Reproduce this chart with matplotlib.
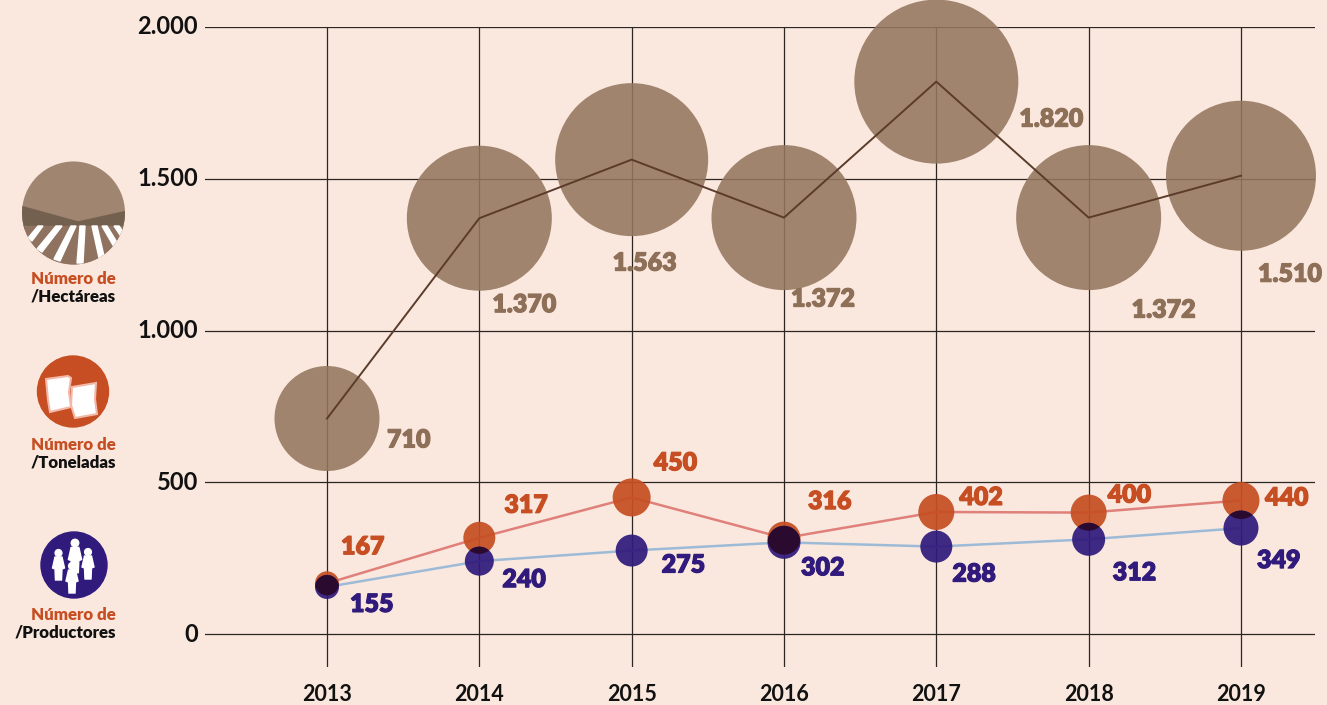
import matplotlib
matplotlib.use("Agg")
import matplotlib.pyplot as plt
import matplotlib.patheffects as pe
from matplotlib.patches import Circle, Polygon, Rectangle, Ellipse

years = [2013, 2014, 2015, 2016, 2017, 2018, 2019]
hectareas = [710, 1370, 1563, 1372, 1820, 1372, 1510]
toneladas = [167, 317, 450, 316, 402, 400, 440]
productores = [155, 240, 275, 302, 288, 312, 349]
y_ticks = [0, 500, 1000, 1500, 2000]
y_labels = ["0", "500", "1.000", "1.500", "2.000"]

hect_diam_px = [105, 145, 153, 145, 164, 145, 150]
tone_diam_px = [24, 32, 38, 33, 36, 36, 37]
prod_diam_px = [24, 29, 32, 33, 32, 33, 35]
hect_off = [(60, -22), (13, -87), (-19, -104), (7, -82), (83, -38), (43, -93), (17, -99)]
tone_off = [(14, 36), (25, 32), (22, 34), (24, 36), (23, 14), (19, 17), (24, 2)]
prod_off = [(23, -18), (23, -19), (30, -15), (17, -26), (16, -28), (24, -34), (16, -33)]

BG = "#FAE8DE"
BROWN = "#94765F"
ORANGE = "#C64E22"
PURPLE = "#301A7C"
W, H = 1327, 705
DPI = 100
FONT = "Lato"

fig = plt.figure(figsize=(W / DPI, H / DPI), dpi=DPI, facecolor=BG)
L, R, T, B = 205, 1315, 27, 667
ax = fig.add_axes([L / W, 1 - B / H, (R - L) / W, (B - T) / H], facecolor="none")
px_x = 152.33
px_y = (634 - 27) / 2000
ax.set_xlim(2013 + (L - 327) / px_x, 2013 + (R - 327) / px_x)
ax.set_ylim(-(B - 634) / px_y, 2000)
for s in ax.spines.values():
    s.set_visible(False)
ax.set_xticks(years)
ax.set_yticks(y_ticks)
ax.set_yticklabels(y_labels, fontsize=17, fontweight="bold", fontfamily=FONT, color="#111111")
ax.set_xticklabels([str(y) for y in years], fontsize=15.5, fontweight="bold", fontfamily=FONT, color="#111111")
ax.tick_params(length=0, axis="y", pad=5)
ax.tick_params(length=0, axis="x", pad=12)
for lab in ax.get_yticklabels():
    lab.set_verticalalignment("center")
ax.grid(True, color="#2B2622", lw=0.9, zorder=1)
ax.set_axisbelow(True)


def s_of(d):
    return [(v * 72 / DPI) ** 2 for v in d]


ax.scatter(years, hectareas, s=s_of(hect_diam_px), color=BROWN, alpha=0.88, lw=0, zorder=2, clip_on=False)
ax.plot(years, hectareas, color="#5B3C2A", lw=1.4, zorder=3)
ax.plot(years, toneladas, color="#E0807A", lw=1.8, zorder=3)
ax.plot(years, productores, color="#9DBAD6", lw=1.8, zorder=3)
ax.scatter(years, toneladas, s=s_of(tone_diam_px), color=ORANGE, alpha=0.93, lw=0, zorder=4)
ax.scatter(years, productores, s=s_of(prod_diam_px), color=PURPLE, alpha=0.93, lw=0, zorder=5)

# Darker lens where the orange and purple dots overlap
for x, t, p, dt, dp in zip(years, toneladas, productores, tone_diam_px, prod_diam_px):
    o = Ellipse((x, t), dt / px_x, dt / px_y, transform=ax.transData, fc="none", ec="none")
    ax.add_patch(o)
    lens = Ellipse((x, p), dp / px_x, dp / px_y, fc="#2A0A2E", ec="none", zorder=5.5)
    ax.add_patch(lens)
    lens.set_clip_path(o)

kw = dict(textcoords="offset pixels", fontsize=18, fontweight="heavy", fontfamily=FONT,
          ha="left", va="center", zorder=6, annotation_clip=False)
fmt = lambda v: f"{v:,}".replace(",", ".")


def label(x, v, o, col):
    t = ax.annotate(fmt(v), (x, v), xytext=o, color=col, **kw)
    t.set_path_effects([pe.withStroke(linewidth=0.8, foreground=col)])


for x, v, o in zip(years, hectareas, hect_off):
    label(x, v, o, "#8E6F58")
for x, v, o in zip(years, toneladas, tone_off):
    label(x, v, o, ORANGE)
for x, v, o in zip(years, productores, prod_off):
    label(x, v, o, PURPLE)

# Overlay for the legend icons, in pixel space
ic = fig.add_axes([0, 0, 1, 1], facecolor="none")
ic.set_xlim(0, W)
ic.set_ylim(H, 0)
ic.axis("off")

# Field icon
clip = Circle((73.5, 213), 51.5, transform=ic.transData)
for patch in [
    Rectangle((20, 160), 110, 110, color="#A08570"),
    Polygon([(20, 206), (78, 222), (128, 211), (128, 229), (20, 229)], color="#74604F"),
    Rectangle((20, 226), 110, 40, color="#8F7360"),
    Polygon([(38, 226), (28, 238), (32, 241), (43, 226)], color="white"),
    Polygon([(56, 226), (37, 249), (42, 252), (62, 226)], color="white"),
    Polygon([(71, 226), (54, 259), (60, 261), (76, 226)], color="white"),
    Polygon([(80, 226), (77, 263), (83, 263), (85, 226)], color="white"),
    Polygon([(92, 226), (99, 258), (104, 256), (97, 226)], color="white"),
    Polygon([(102, 226), (114, 247), (118, 244), (107, 226)], color="white"),
    Polygon([(114, 226), (122, 238), (125, 234), (119, 226)], color="white"),
]:
    ic.add_patch(patch)
    patch.set_clip_path(clip)

# Sacks icon
ic.add_patch(Circle((73, 391.5), 35.5, color=ORANGE))
ic.add_patch(Polygon([(46, 379), (68, 376), (71, 378), (69, 392), (71, 407), (50, 412), (48, 400)],
                     fc="white", ec="#F2B8A8", lw=1.5))
ic.add_patch(Polygon([(72, 387), (96, 383), (95, 399), (97, 414), (75, 418), (71, 405)],
                     fc="white", ec="#F2B8A8", lw=1.5))

# People icon
ic.add_patch(Circle((74, 565), 33, color=PURPLE))


def person(cx, head_y, scale):
    ic.add_patch(Circle((cx, head_y), 3.4 * scale, color="white"))
    ic.add_patch(Polygon([(cx - 3.5 * scale, head_y + 4 * scale), (cx + 3.5 * scale, head_y + 4 * scale),
                          (cx + 6 * scale, head_y + 15 * scale), (cx + 3.5 * scale, head_y + 16 * scale),
                          (cx + 3 * scale, head_y + 27 * scale), (cx - 3 * scale, head_y + 27 * scale),
                          (cx - 3.5 * scale, head_y + 16 * scale), (cx - 6 * scale, head_y + 15 * scale)],
                         color="white"))


person(58.5, 553, 1.0)
person(75, 543, 1.1)
person(88, 552, 1.0)
person(72, 566, 1.0)

leg = dict(fontsize=12.2, fontweight="heavy", fontfamily=FONT, ha="right", va="center")
for y, name in [(279, "Hectáreas"), (445, "Toneladas"), (615, "Productores")]:
    ic.text(116, y, "Número de", color=ORANGE, **leg)
    ic.text(116, y + 17, "/" + name, color="#111111", **leg)

fig.savefig("out.png", dpi=DPI, facecolor=BG)
